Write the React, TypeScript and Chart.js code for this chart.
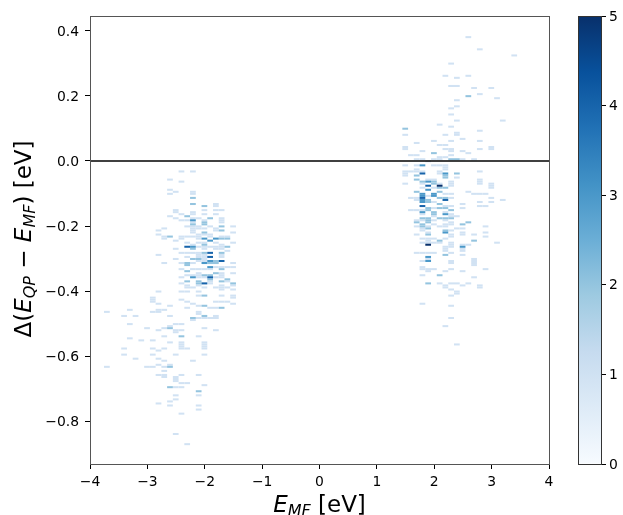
import React, { useEffect, useRef } from "react";
import { Chart, registerables } from "chart.js";

Chart.register(...registerables);

// Histogram bins: bin index -> eV
const firstBinEMF = -3.706;
const binWidthEMF = 0.1;
const firstBinDelta = 0.381;
const binHeightDelta = 0.00626;

const xTicks = [-4, -3, -2, -1, 0, 1, 2, 3, 4];
const yTicks = [-0.8, -0.6, -0.4, -0.2, 0, 0.2, 0.4];
const barTicks = [0, 1, 2, 3, 4, 5];
const countColors = ["#f7fbff", "#d1e2f3", "#94c4df", "#4a98c9", "#1764ab", "#08306b"];
const blues = ["#f7fbff", "#deebf7", "#c6dbef", "#9ecae1", "#6baed6", "#4292c6", "#2171b5", "#08519c", "#08306b"];

// Occupied bins as [E_MF bin, delta bin]
const leftCount1 = [
  [13,66],[15,66],[11,70],[13,71],[11,75],[12,76],[15,76],[11,77],[15,77],[19,83],[19,82],[19,85],[17,85],[20,85],[12,85],[12,86],
  [13,87],[15,86],[15,87],[17,87],[19,87],[11,88],[12,89],[15,89],[16,89],[20,89],[20,90],[20,91],[13,90],[14,90],[15,91],[17,90],
  [16,93],[22,93],[14,93],[15,93],[18,93],[10,94],[15,94],[15,95],[15,96],[16,94],[17,94],[19,94],[19,95],[9,95],[22,96],[9,97],
  [16,97],[16,98],[16,99],[17,97],[18,97],[13,98],[18,98],[10,98],[10,99],[14,98],[15,98],[20,98],[21,98],[13,99],[12,100],[14,101],
  [16,101],[17,101],[22,101],[19,101],[15,102],[20,102],[20,103],[20,104],[16,103],[17,103],[18,103],[19,103],[12,104],[17,104],[19,104],[21,105],
  [14,106],[15,106],[13,106],[16,106],[9,107],[16,107],[16,108],[16,110],[17,107],[17,108],[17,109],[17,110],[20,107],[20,108],[14,108],[12,109],
  [10,111],[13,111],[22,111],[15,111],[19,113],[20,113],[21,113],[22,113],[18,114],[13,114],[15,114],[16,114],[17,114],[22,116],[20,116],[20,117],
  [16,116],[16,117],[14,117],[15,117],[19,118],[13,118],[16,118],[17,118],[20,118],[21,120],[18,120],[18,121],[13,121],[14,122],[16,122],[22,122],
  [20,122],[20,123],[14,123],[15,123],[17,123],[19,123],[20,124],[21,123],[22,124],[9,125],[13,125],[14,125],[16,125],[16,127],[20,127],[22,127],
  [22,128],[8,128],[8,129],[8,130],[13,129],[14,130],[19,130],[20,130],[21,130],[9,131],[11,132],[15,131],[16,132],[22,131],[14,133],[18,133],
  [19,133],[10,134],[4,134],[9,134],[9,135],[8,135],[0,135],[16,135],[16,136],[3,137],[5,137],[11,137],[19,137],[16,138],[17,138],[18,138],
  [19,138],[15,139],[4,141],[12,141],[13,141],[7,143],[10,143],[11,142],[17,143],[9,144],[13,144],[12,144],[12,145],[19,144],[10,147],[16,147],
  [4,148],[8,149],[6,149],[11,150],[13,150],[13,151],[13,152],[13,153],[17,150],[17,151],[17,152],[17,153],[3,153],[8,153],[10,153],[14,153],
  [9,154],[3,156],[8,156],[12,156],[17,156],[5,158],[9,158],[10,159],[15,159],[9,161],[11,161],[0,162],[7,162],[8,162],[10,162],[10,164],
  [10,166],[9,166],[13,166],[16,166],[10,167],[12,167],[12,168],[12,169],[13,170],[14,170],[17,171],[12,172],[13,172],[12,176],[16,176],[12,178],
  [11,179],[9,180],[11,181],[16,181],[16,183],[13,185],[12,195],[14,200],
];
const leftCount2 = [
  [15,82],[15,79],[17,83],[14,88],[18,89],[17,91],[17,92],[15,92],[20,93],[20,95],[17,96],[11,98],[20,99],[21,99],[17,102],[21,103],
  [15,104],[17,106],[20,106],[15,109],[16,109],[19,110],[19,111],[14,111],[14,112],[18,111],[20,114],[14,115],[19,116],[17,117],[18,117],[18,119],
  [21,119],[14,120],[16,120],[16,121],[20,120],[22,121],[17,127],[17,132],[20,133],[17,137],[15,138],[11,143],[13,147],[11,162],[11,172],[16,174],
];
const leftCount3 = [[15,90],[17,99],[19,99],[18,100],[15,103],[18,110],[17,111],[18,113],[15,118]];
const leftCount4 = [[14,103],[18,106],[18,108],[20,110],[18,118],[17,121]];

const rightCount1 = [
  [63,0],[65,6],[71,9],[60,13],[59,19],[63,19],[61,20],[60,24],[61,24],[64,25],[67,25],[65,28],[68,30],[61,31],[61,34],[60,35],
  [60,38],[61,41],[69,41],[58,43],[60,44],[65,46],[52,48],[59,48],[61,47],[61,48],[62,50],[57,51],[60,51],[65,51],[54,52],[58,53],
  [59,53],[52,54],[52,55],[59,55],[65,55],[67,54],[67,55],[55,56],[60,55],[60,56],[62,56],[63,57],[53,58],[54,58],[60,58],[58,59],
  [59,59],[64,60],[54,60],[55,60],[57,60],[58,60],[62,60],[56,61],[52,63],[54,63],[57,63],[58,63],[59,63],[54,65],[59,64],[59,65],
  [53,66],[54,66],[55,66],[58,66],[65,66],[52,66],[52,67],[52,68],[58,67],[61,69],[65,70],[56,70],[57,70],[60,71],[60,72],[60,73],
  [65,71],[65,72],[52,72],[55,72],[58,72],[67,72],[67,73],[67,74],[55,74],[57,74],[63,76],[64,77],[59,77],[60,77],[65,77],[66,77],
  [53,79],[56,78],[60,79],[67,79],[54,79],[54,80],[65,81],[67,81],[69,80],[57,81],[62,82],[60,83],[65,83],[66,83],[59,83],[62,84],
  [55,85],[57,84],[53,85],[54,85],[59,86],[55,87],[60,87],[60,88],[61,88],[57,88],[54,90],[55,90],[59,90],[57,90],[57,92],[60,91],
  [60,92],[59,92],[59,93],[54,93],[66,93],[56,93],[58,93],[61,94],[62,94],[55,94],[55,95],[60,95],[66,96],[56,96],[54,97],[62,96],
  [62,97],[64,97],[60,97],[60,98],[66,98],[55,99],[57,99],[56,99],[56,100],[56,101],[59,99],[55,101],[57,101],[58,101],[68,101],[60,101],
  [60,102],[60,103],[63,102],[62,102],[62,104],[59,103],[59,104],[59,105],[62,105],[55,106],[56,106],[57,106],[54,106],[60,106],[62,107],[56,109],
  [64,109],[64,110],[55,110],[60,110],[60,111],[64,111],[64,112],[55,113],[55,114],[56,114],[57,114],[60,114],[62,115],[59,115],[66,114],[56,115],
  [55,117],[64,118],[58,121],[60,121],[61,121],[63,121],[62,122],[59,122],[59,123],[65,122],[65,123],[60,124],[61,125],[61,126],[60,127],[55,131],
  [60,132],[60,138],[59,142],[61,151],
];
const rightCount2 = [
  [63,29],[52,45],[57,57],[60,60],[61,60],[54,68],[59,68],[59,69],[61,67],[54,70],[55,71],[57,71],[57,72],[58,74],[59,74],[54,76],
  [58,76],[57,78],[58,79],[59,79],[56,80],[56,81],[58,82],[56,84],[56,85],[58,84],[59,84],[60,85],[57,86],[57,87],[55,89],[58,89],
  [59,89],[60,89],[56,89],[56,90],[54,91],[55,92],[62,92],[63,91],[56,91],[55,93],[56,94],[59,95],[56,97],[58,100],[64,100],[59,107],
  [56,121],[58,117],
];
const rightCount3 = [[55,63],[59,67],[56,71],[56,75],[55,77],[57,77],[55,78],[57,78],[55,80],[55,81],[55,86],[59,87],[59,96],[62,103],[56,108],[56,110]];
const rightCount4 = [[55,67],[56,73],[55,79],[59,80],[55,83]];
const rightCount5 = [[58,73],[56,102]];

const cellLists = [
  { count: 1, bins: [...leftCount1, ...rightCount1] },
  { count: 2, bins: [...leftCount2, ...rightCount2] },
  { count: 3, bins: [...leftCount3, ...rightCount3] },
  { count: 4, bins: [...leftCount4, ...rightCount4] },
  { count: 5, bins: rightCount5 },
];

const FONT = "'DejaVu Sans'";

function buildCells() {
  const byKey = new Map<string, { x: number; y: [number, number]; count: number }>();
  for (const list of cellLists) {
    for (const [c, r] of list.bins) {
      const mid = firstBinDelta - r * binHeightDelta;
      byKey.set(c + ":" + r, {
        x: firstBinEMF + c * binWidthEMF,
        y: [mid - binHeightDelta / 2, mid + binHeightDelta / 2],
        count: list.count,
      });
    }
  }
  return [...byKey.values()];
}

function drawPieces(ctx: CanvasRenderingContext2D, pieces: { t: string; f: string; d?: number }[]) {
  const total = pieces.reduce((w, p) => {
    ctx.font = p.f;
    return w + ctx.measureText(p.t).width;
  }, 0);
  let x = -total / 2;
  for (const p of pieces) {
    ctx.font = p.f;
    ctx.fillText(p.t, x, p.d ?? 0);
    x += ctx.measureText(p.t).width;
  }
}

const big = `23px ${FONT}`;
const bigI = `italic 23px ${FONT}`;
const subI = `italic 16px ${FONT}`;

const axisTitles = {
  id: "axisTitles",
  afterDraw(chart: any) {
    const { ctx, chartArea: a } = chart;
    ctx.save();
    ctx.strokeStyle = "#555";
    ctx.lineWidth = 1;
    ctx.strokeRect(a.left + 0.5, a.top + 0.5, a.right - a.left, a.bottom - a.top);
    ctx.fillStyle = "#000";
    ctx.textBaseline = "alphabetic";
    ctx.textAlign = "left";
    ctx.save();
    ctx.translate(319.5, 512);
    drawPieces(ctx, [
      { t: "E", f: bigI },
      { t: "MF", f: subI, d: 3.5 },
      { t: " [eV]", f: big },
    ]);
    ctx.restore();
    ctx.save();
    ctx.translate(31, 239);
    ctx.rotate(-Math.PI / 2);
    drawPieces(ctx, [
      { t: "\u0394(", f: big },
      { t: "E", f: bigI },
      { t: "QP", f: subI, d: 3.5 },
      { t: " \u2212 ", f: big },
      { t: "E", f: bigI },
      { t: "MF", f: subI, d: 3.5 },
      { t: ") [eV]", f: big },
    ]);
    ctx.restore();
    ctx.restore();
  },
};

const tickFont = { family: FONT, size: 13.9 };
const minus = (s: string) => s.replace("-", "\u2212");

export default function App() {
  const mainRef = useRef<HTMLCanvasElement>(null);
  const barRef = useRef<HTMLCanvasElement>(null);

  useEffect(() => {
    const cells = buildCells();
    const main = new Chart(mainRef.current!, {
      type: "bar",
      data: {
        datasets: [
          {
            type: "line",
            data: [{ x: -4, y: 0 }, { x: 4, y: 0 }],
            borderColor: "#000",
            borderWidth: 1.5,
            pointRadius: 0,
            order: 0,
          },
          {
            type: "bar",
            data: cells as any,
            backgroundColor: cells.map((c) => countColors[c.count]),
            borderWidth: 0,
            inflateAmount: 0,
            barPercentage: 1,
            categoryPercentage: 1,
            grouped: false,
            order: 1,
          },
        ],
      } as any,
      options: {
        animation: false,
        responsive: false,
        plugins: { legend: { display: false }, tooltip: { enabled: false } },
        layout: { padding: { top: 16, right: 74, left: 0, bottom: 0 } },
        scales: {
          x: {
            type: "linear",
            offset: false,
            min: -4,
            max: 4,
            afterFit: (s: any) => { s.height = 51; },
            afterBuildTicks: (s: any) => { s.ticks = xTicks.map((value) => ({ value })); },
            grid: { offset: false, drawOnChartArea: false, color: "#000", tickLength: 5 },
            border: { display: false },
            ticks: { color: "#000", font: tickFont, padding: 5, maxRotation: 0, autoSkip: false, callback: (v: any) => minus(String(v)) },
          },
          y: {
            type: "linear",
            min: -0.932,
            max: 0.446,
            afterFit: (s: any) => { s.width = 90; },
            afterBuildTicks: (s: any) => { s.ticks = yTicks.map((value) => ({ value })); },
            grid: { drawOnChartArea: false, color: "#000", tickLength: 5 },
            border: { display: false },
            ticks: { color: "#000", font: tickFont, padding: 6, labelOffset: 1, autoSkip: false, callback: (v: any) => minus(Number(v).toFixed(1)) },
          },
        },
      },
      plugins: [axisTitles],
    } as any);

    const colorbar = new Chart(barRef.current!, {
      type: "bar",
      data: {
        labels: ["count"],
        datasets: [
          {
            data: [[barTicks[0], barTicks[barTicks.length - 1]]],
            barPercentage: 1,
            categoryPercentage: 1,
            borderWidth: 0,
            inflateAmount: 0,
            backgroundColor: (ctx: any) => {
              const a = ctx.chart.chartArea;
              if (!a) return blues[0];
              const g = ctx.chart.ctx.createLinearGradient(0, a.bottom, 0, a.top);
              blues.forEach((c, i) => g.addColorStop(i / (blues.length - 1), c));
              return g;
            },
          },
        ],
      },
      options: {
        animation: false,
        responsive: false,
        plugins: { legend: { display: false }, tooltip: { enabled: false } },
        layout: { padding: { top: 16, left: 18, right: 0, bottom: 51 } },
        scales: {
          x: { display: false },
          y: {
            position: "right",
            min: 0,
            max: 5,
            afterFit: (s: any) => { s.width = 22; },
            afterBuildTicks: (s: any) => { s.ticks = barTicks.map((value) => ({ value })); },
            grid: { drawOnChartArea: false, color: "#000", tickLength: 5 },
            border: { display: false },
            ticks: { color: "#000", font: tickFont, padding: 3, labelOffset: 1, autoSkip: false },
          },
        },
      },
      plugins: [
        {
          id: "barFrame",
          afterDraw(chart: any) {
            const { ctx, chartArea: a } = chart;
            ctx.save();
            ctx.strokeStyle = "#333";
            ctx.lineWidth = 1;
            ctx.strokeRect(a.left + 0.5, a.top + 0.5, a.right - a.left, a.bottom - a.top);
            ctx.restore();
          },
        },
      ],
    } as any);

    return () => {
      main.destroy();
      colorbar.destroy();
    };
  }, []);

  return (
    <div style={{ position: "absolute", left: 0, top: 0, width: 623, height: 515, background: "#fff" }}>
      <canvas ref={mainRef} width={623} height={515} style={{ position: "absolute", left: 0, top: 0 }} />
      <canvas ref={barRef} width={63} height={515} style={{ position: "absolute", left: 560, top: 0 }} />
    </div>
  );
}
